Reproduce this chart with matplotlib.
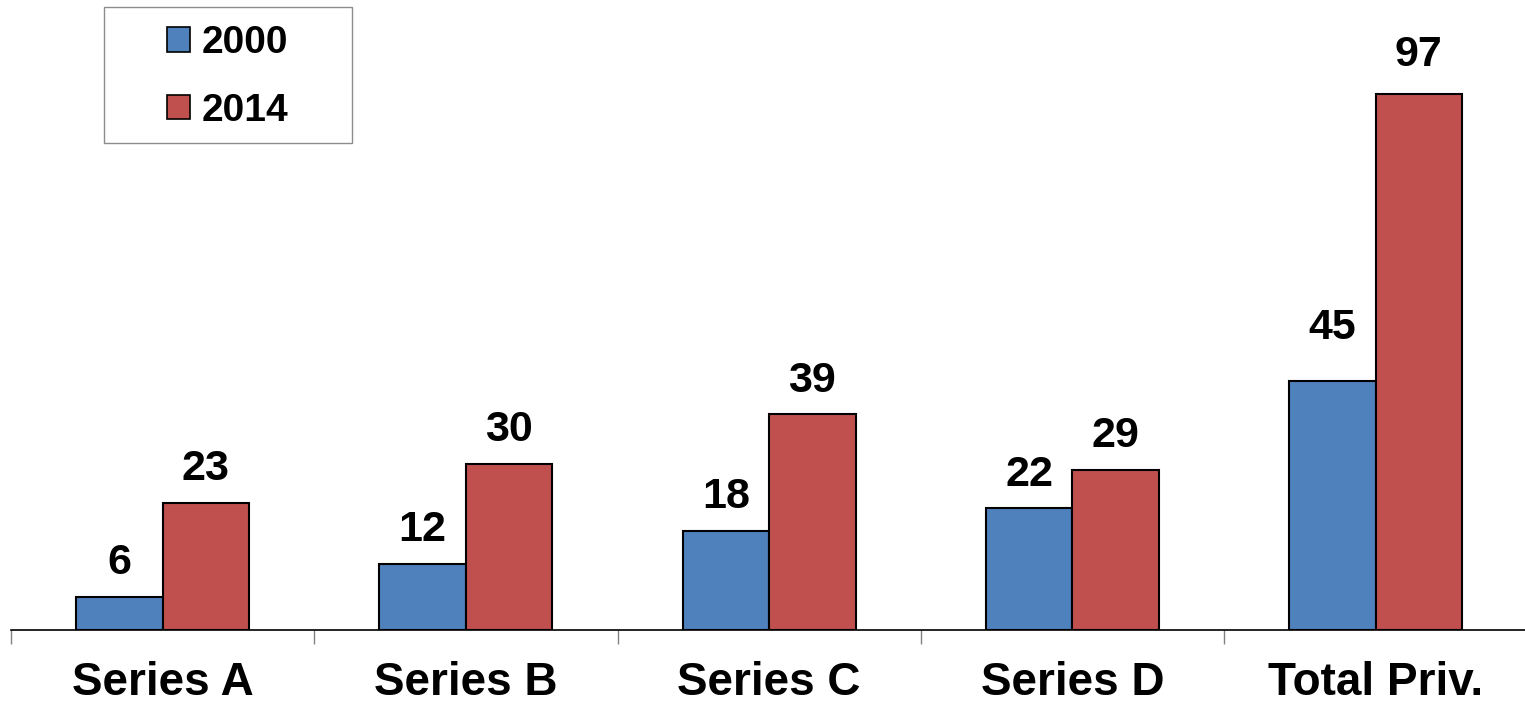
import matplotlib

matplotlib.use("Agg")
import matplotlib.pyplot as plt
import matplotlib.patches as mpatches
import numpy as np

# Data
categories = ["Series A", "Series B", "Series C", "Series D", "Total Priv."]
values_2000 = [6, 12, 18, 22, 45]
values_2014 = [23, 30, 39, 29, 97]
series_names = ["2000", "2014"]

BLUE = "#4F81BD"
RED = "#C0504D"

plt.rcParams["font.family"] = ["Liberation Sans", "DejaVu Sans"]
plt.rcParams["font.weight"] = "bold"

W, H = 1525, 706
fig = plt.figure(figsize=(W / 100, H / 100), dpi=100)
# axis line sits at y=630px, spans from x=11px to just past the right edge
ax = fig.add_axes([11 / W, (H - 630) / H, 1516.25 / W, 630 / H])

x = np.arange(len(categories))
bw = 0.285
b1 = ax.bar(x - bw / 2, values_2000, bw, color=BLUE, edgecolor="black",
            linewidth=1.5, label=series_names[0], zorder=3)
b2 = ax.bar(x + bw / 2, values_2014, bw, color=RED, edgecolor="black",
            linewidth=1.5, label=series_names[1], zorder=3)

# value labels above bars (the 45 label sits a little higher in the original)
off_2000 = [10, 10, 10, 10, 24]
off_2014 = [10, 10, 10, 10, 14]
for rect, v, o in zip(b1, values_2000, off_2000):
    ax.annotate(str(v), (rect.get_x() + rect.get_width() / 2, v),
                xytext=(0, o), textcoords="offset points",
                ha="center", va="bottom", fontsize=31, fontweight="bold")
for rect, v, o in zip(b2, values_2014, off_2014):
    ax.annotate(str(v), (rect.get_x() + rect.get_width() / 2, v),
                xytext=(0, o), textcoords="offset points",
                ha="center", va="bottom", fontsize=31, fontweight="bold")

ax.set_xlim(-0.5, len(categories) - 0.5)
ax.set_ylim(0, 114)

for side in ["top", "left", "right"]:
    ax.spines[side].set_visible(False)
ax.spines["bottom"].set_color("black")
ax.spines["bottom"].set_linewidth(1.2)
ax.set_yticks([])

# tick marks between categories, labels at the centres
ax.set_xticks(np.arange(len(categories) + 1) - 0.5)
ax.set_xticklabels([])
ax.tick_params(axis="x", which="major", direction="out", length=10,
               width=1.0, color="#808080")
ax.set_xticks(x, minor=True)
ax.set_xticklabels(categories, minor=True, fontsize=33, fontweight="bold")
ax.tick_params(axis="x", which="minor", length=0, pad=22)

# legend box drawn by hand so the padding matches
fig.patches.append(mpatches.Rectangle((104 / W, 1 - 143 / H), 248 / W, 136 / H,
                                      transform=fig.transFigure, fill=False,
                                      edgecolor="#8c8c8c", linewidth=1.0))
handles = [mpatches.Patch(facecolor=BLUE, edgecolor="black", linewidth=1.2),
           mpatches.Patch(facecolor=RED, edgecolor="black", linewidth=1.2)]
fig.legend(handles, series_names, loc="center left",
           bbox_to_anchor=(167 / W, 1 - 77 / H), frameon=False,
           prop={"size": 28, "weight": "bold"}, handlelength=0.6,
           handleheight=0.6, handletextpad=0.3, labelspacing=0.8,
           borderpad=0, borderaxespad=0)

fig.savefig("out.png", dpi=100)
